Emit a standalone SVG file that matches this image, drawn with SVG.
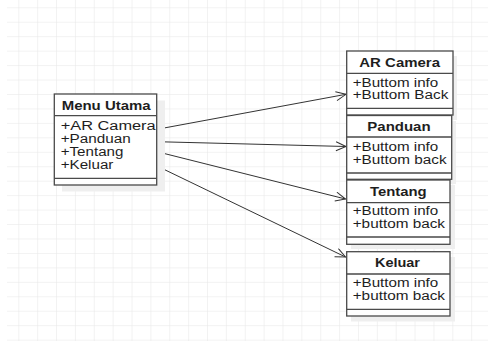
<svg xmlns="http://www.w3.org/2000/svg" width="488" height="343" viewBox="0 0 488 343">
<style>
.box{fill:#fff;stroke:#4a4a4a;stroke-width:1.3}
.sep{stroke:#4a4a4a;stroke-width:1.3;fill:none}
.sh{fill:#efefef}
.t{font-family:"Liberation Sans",Arial,sans-serif;font-size:12px;fill:#1e1e1e}
.b{font-weight:bold}
.con{stroke:#333;stroke-width:1;fill:none;marker-end:url(#arr)}
</style>
<defs>
<pattern id="grid" x="18.3" y="7.3" width="18.87" height="14.45" patternUnits="userSpaceOnUse">
<path d="M0 0 V14.45 M0 0 H18.87" stroke="#e6e6e6" stroke-width="1" fill="none"/>
</pattern>
<marker id="arr" markerUnits="userSpaceOnUse" markerWidth="14" markerHeight="12" refX="11" refY="5" orient="auto">
<path d="M1 0.5 L11 5 L1 9.5" fill="none" stroke="#333" stroke-width="1"/>
</marker>
</defs>
<rect x="0" y="0" width="488" height="343" fill="#fff"/>
<rect x="7" y="0" width="481" height="341" fill="url(#grid)"/>

<g id="connectors">
<line class="con" x1="157" y1="129.3" x2="346" y2="94.3"/>
<line class="con" x1="157" y1="141.7" x2="346" y2="146.5"/>
<line class="con" x1="157" y1="151.7" x2="345.5" y2="199"/>
<line class="con" x1="157" y1="166" x2="345.5" y2="257"/>
</g>

<g id="menu-utama">
<rect class="sh" x="62" y="100.5" width="103" height="91"/>
<rect class="box" x="54.3" y="94" width="102.4" height="91"/>
<path class="sep" d="M54.3 115.7 H156.7 M54.3 178.3 H156.7"/>
<text class="t b" x="61.7" y="110" textLength="89" lengthAdjust="spacingAndGlyphs">Menu Utama</text>
<text class="t" x="60.7" y="130" textLength="95" lengthAdjust="spacingAndGlyphs">+AR Camera</text>
<text class="t" x="60.7" y="143" textLength="70" lengthAdjust="spacingAndGlyphs">+Panduan</text>
<text class="t" x="60.7" y="156" textLength="62.7" lengthAdjust="spacingAndGlyphs">+Tentang</text>
<text class="t" x="60.7" y="169" textLength="52.7" lengthAdjust="spacingAndGlyphs">+Keluar</text>
</g>

<g id="ar-camera">
<rect class="sh" x="351" y="56" width="106" height="64"/>
<rect class="box" x="346.7" y="51" width="106.3" height="64"/>
<path class="sep" d="M346.7 73.3 H453 M346.7 108.3 H453"/>
<text class="t b" x="359.3" y="66.7" textLength="80.7" lengthAdjust="spacingAndGlyphs">AR Camera</text>
<text class="t" x="352.7" y="86.7" textLength="85.6" lengthAdjust="spacingAndGlyphs">+Buttom info</text>
<text class="t" x="352.7" y="99.3" textLength="95.6" lengthAdjust="spacingAndGlyphs">+Buttom Back</text>
</g>

<g id="panduan">
<rect class="sh" x="351" y="121" width="105" height="63"/>
<rect class="box" x="346.7" y="115.5" width="105" height="63.8"/>
<path class="sep" d="M346.7 137 H451.7 M346.7 173 H451.7"/>
<text class="t b" x="367.3" y="130.7" textLength="63.3" lengthAdjust="spacingAndGlyphs">Panduan</text>
<text class="t" x="352.7" y="151" textLength="85.6" lengthAdjust="spacingAndGlyphs">+Buttom info</text>
<text class="t" x="352.7" y="163.5" textLength="94" lengthAdjust="spacingAndGlyphs">+Buttom back</text>
</g>

<g id="tentang">
<rect class="sh" x="351" y="185" width="104" height="64"/>
<rect class="box" x="346.7" y="180" width="103.3" height="64.3"/>
<path class="sep" d="M346.7 202.7 H450 M346.7 237 H450"/>
<text class="t b" x="370" y="196" textLength="56.7" lengthAdjust="spacingAndGlyphs">Tentang</text>
<text class="t" x="352.7" y="215" textLength="85.6" lengthAdjust="spacingAndGlyphs">+Buttom info</text>
<text class="t" x="352.7" y="228.3" textLength="92.3" lengthAdjust="spacingAndGlyphs">+buttom back</text>
</g>

<g id="keluar">
<rect class="sh" x="351" y="257" width="104" height="64.5"/>
<rect class="box" x="346.7" y="251.7" width="103.3" height="64.3"/>
<path class="sep" d="M346.7 274 H450 M346.7 309.3 H450"/>
<text class="t b" x="375" y="266.7" textLength="45" lengthAdjust="spacingAndGlyphs">Keluar</text>
<text class="t" x="352.7" y="287.3" textLength="85.6" lengthAdjust="spacingAndGlyphs">+Buttom info</text>
<text class="t" x="352.7" y="300" textLength="92.3" lengthAdjust="spacingAndGlyphs">+buttom back</text>
</g>
</svg>
